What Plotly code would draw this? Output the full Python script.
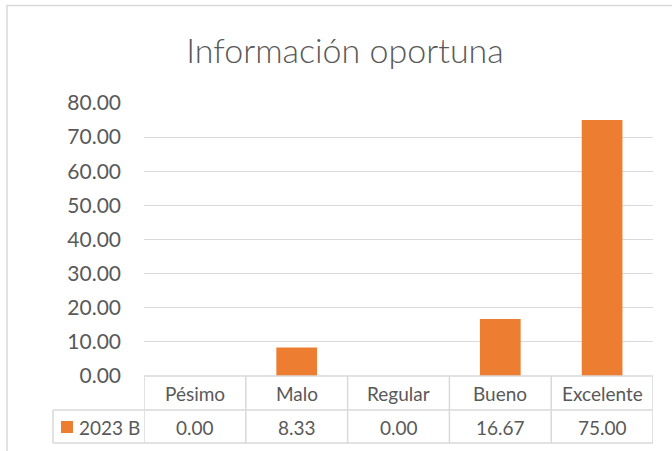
import plotly.graph_objects as go

# ---- data ----
categories = ["Pésimo", "Malo", "Regular", "Bueno", "Excelente"]
series_name = "2023 B"
values = [0.00, 8.33, 0.00, 16.67, 75.00]
title_text = "Información oportuna"
y_ticks = [0, 10, 20, 30, 40, 50, 60, 70, 80]

# ---- layout constants (pixels) ----
W, H = 672, 451
ML, MR, MT, MB = 144, 19, 103, 75
PW = W - ML - MR
PH = H - MT - MB

BAR = "#ED7D31"
TXT = "#595959"
LINE = "#D9D9D9"
FONT = "Lato"


def px_x(px):
    return (px - ML) / PW


def px_y(py):
    return (H - MB - py) / PH


fig = go.Figure()
fig.add_trace(go.Bar(
    x=list(range(len(categories))), y=values, name=series_name,
    marker=dict(color=BAR, line=dict(width=0)), width=0.4,
    hoverinfo="skip",
))

shapes = []
# outer chart border
shapes.append(dict(type="rect", xref="paper", yref="paper",
                   x0=px_x(7), x1=px_x(700), y0=px_y(470), y1=px_y(5.5),
                   line=dict(color=LINE, width=1.5), layer="below"))
# table top (axis line)
shapes.append(dict(type="line", xref="x", yref="paper", x0=-0.5, x1=len(categories) - 0.5,
                   y0=0, y1=0, line=dict(color=LINE, width=1.5)))
# row lines
for py in (410, 443):
    shapes.append(dict(type="line", xref="paper", yref="paper", x0=px_x(53), x1=1,
                       y0=px_y(py), y1=px_y(py), line=dict(color=LINE, width=1.5)))
# column lines
for i in range(len(categories) + 1):
    shapes.append(dict(type="line", xref="x", yref="paper", x0=i - 0.5, x1=i - 0.5,
                       y0=0, y1=px_y(443), line=dict(color=LINE, width=1.5)))
# legend cell left edge
shapes.append(dict(type="line", xref="paper", yref="paper", x0=px_x(53), x1=px_x(53),
                   y0=px_y(410), y1=px_y(443), line=dict(color=LINE, width=1.5)))
# legend key
shapes.append(dict(type="rect", xref="paper", yref="paper", x0=px_x(61), x1=px_x(73),
                   y0=px_y(433), y1=px_y(421), fillcolor=BAR, line=dict(width=0)))

annotations = []
for i, (c, v) in enumerate(zip(categories, values)):
    annotations.append(dict(x=i, xref="x", y=px_y(393), yref="paper", text=c,
                            showarrow=False, xanchor="center", yanchor="middle",
                            font=dict(family=FONT, size=19, color=TXT)))
    annotations.append(dict(x=i, xref="x", y=px_y(427), yref="paper", text=f"{v:.2f}",
                            showarrow=False, xanchor="center", yanchor="middle",
                            font=dict(family=FONT, size=19, color=TXT)))
annotations.append(dict(x=px_x(77), xref="paper", y=px_y(427), yref="paper", text=series_name,
                        showarrow=False, xanchor="left", yanchor="middle",
                        font=dict(family=FONT, size=19, color=TXT)))

fig.update_layout(
    width=W, height=H,
    margin=dict(l=ML, r=MR, t=MT, b=MB, pad=0),
    paper_bgcolor="white", plot_bgcolor="white",
    showlegend=False, hovermode=False,
    title=dict(text=title_text, x=345 / W, xref="container", xanchor="center",
               y=1 - 51 / H, yref="container", yanchor="middle",
               font=dict(family=FONT, size=34, color=TXT, weight=300)),
    xaxis=dict(range=[-0.5, len(categories) - 0.5], showticklabels=False, showgrid=False,
               zeroline=False, showline=False, ticks=""),
    yaxis=dict(range=[0, 80], tickvals=y_ticks, tickformat=".2f", showgrid=True,
               gridcolor=LINE, gridwidth=1.3, zeroline=False, showline=False, ticks="",
               ticklabelstandoff=22,
               tickfont=dict(family=FONT, size=21, color=TXT)),
    shapes=shapes, annotations=annotations,
)

fig.write_html("out.html", config={"displayModeBar": False},
               post_script="document.body.style.margin='0';document.body.style.overflow='hidden';")
